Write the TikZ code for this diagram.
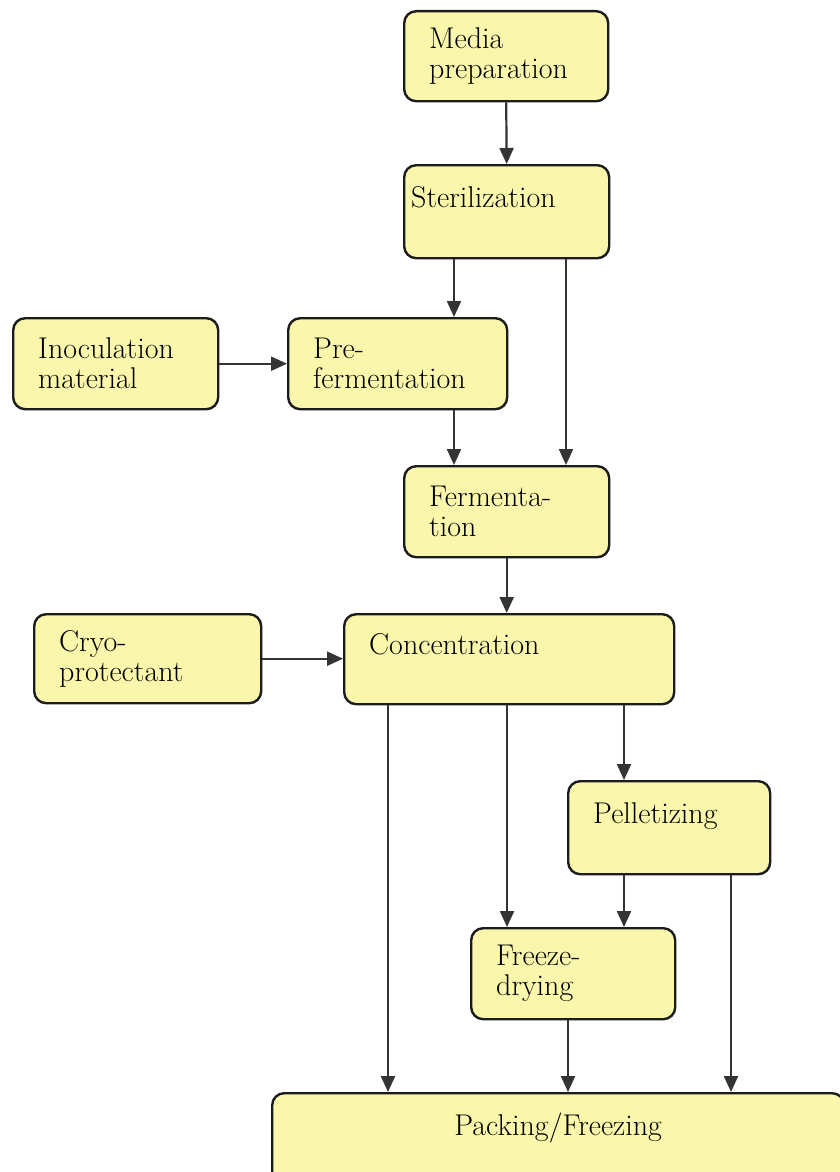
\documentclass[tikz,border=0pt]{standalone}
\usetikzlibrary{arrows.meta}
\definecolor{boxfill}{RGB}{250,246,172}
\definecolor{boxline}{RGB}{28,28,28}
\definecolor{arrline}{RGB}{52,52,52}
\begin{document}
\begin{tikzpicture}[x=1pt,y=-1pt,
	stage/.style={draw=boxline, line width=2.4pt, fill=boxfill, rounded corners=12pt, anchor=north west, align=left, inner xsep=25pt, inner ysep=0pt, font=\fontsize{30}{30}\selectfont},
	flow/.style={draw=arrline, line width=2.2pt, -{Triangle[length=16pt,width=14pt]}}]
			\clip (0,0) rectangle (840,1172);
			\fill[white] (0,0) rectangle (840,1172);
			\node[stage, text width=154pt, minimum height=90pt] (media) at (403,10) {Media\\preparation};
			\node[stage, inner xsep=7pt, text width=191pt, minimum height=93pt] (steril) at (403,164) {Sterilization\\\mbox{}};
			\node[stage, text width=155pt, minimum height=91pt] (inoc) at (12,317) {Inoculation\\material};
			\node[stage, text width=169pt, minimum height=91pt] (pre) at (287,317) {Pre-\\fermentation};
			\node[stage, text width=155pt, minimum height=91pt] (ferm) at (403,465) {Fermenta-\\tion};
			\node[stage, text width=177pt, minimum height=89pt] (cryo) at (33,613) {Cryo-\\protectant};
			\node[stage, text width=280pt, minimum height=90pt] (conc) at (343,613) {Concentration\\\mbox{}};
			\node[stage, text width=152pt, minimum height=93pt] (pellet) at (567,780) {Pelletizing\\\mbox{}};
			\node[stage, text width=154pt, minimum height=91pt] (freeze) at (470,927) {Freeze-\\drying};
			\node[stage, align=center, text width=522pt, minimum height=93pt] (pack) at (271,1092) {Packing/Freezing\\\mbox{}};
			\draw[flow] (media.south) -- (steril.north);
			\draw[flow] (steril.south -| 454,0) -- (pre.north -| 454,0);
			\draw[flow] (steril.south -| 566,0) -- (ferm.north -| 566,0);
			\draw[flow] (inoc.east) -- (pre.west);
			\draw[flow] (pre.south -| 454,0) -- (ferm.north -| 454,0);
			\draw[flow] (ferm.south) -- (ferm.south |- conc.north);
			\draw[flow] (cryo.east) -- (conc.west |- cryo.east);
			\draw[flow] (conc.south -| 388,0) -- (pack.north -| 388,0);
			\draw[flow] (conc.south -| 507,0) -- (freeze.north -| 507,0);
			\draw[flow] (conc.south -| 624,0) -- (pellet.north -| 624,0);
			\draw[flow] (pellet.south -| 624,0) -- (freeze.north -| 624,0);
			\draw[flow] (freeze.south -| 568,0) -- (pack.north -| 568,0);
			\draw[flow] (pellet.south -| 731,0) -- (pack.north -| 731,0);
		\end{tikzpicture}
\end{document}
